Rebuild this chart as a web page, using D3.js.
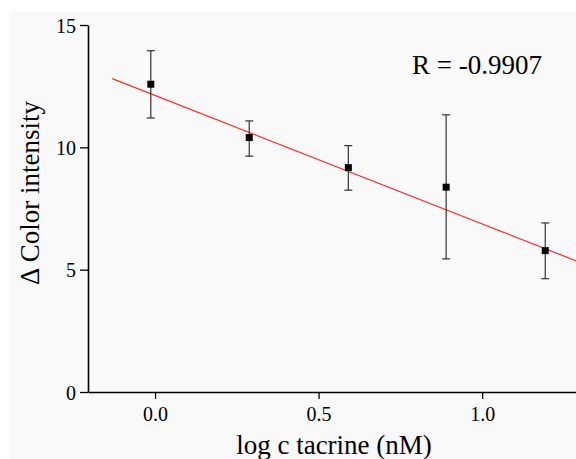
<!DOCTYPE html>
<html>
<head>
<meta charset="utf-8">
<script src="https://cdn.jsdelivr.net/npm/d3@7"></script>
<style>
  body { margin: 0; background: #fff; }
  svg { display: block; }
</style>
</head>
<body>
<svg id="chart"></svg>
<script>
'use strict'

var WIDTH = 576,
	HEIGHT = 459;

// data
var logConc = [-0.013, 0.288, 0.591, 0.89, 1.193];
var intensity = [12.58, 10.40, 9.17, 8.37, 5.78];
var errUpper = [13.95, 11.08, 10.07, 11.33, 6.91];
var errLower = [11.2, 9.64, 8.25, 5.44, 4.63];

var fitSlope = -5.25,
	fitIntercept = 12.12;
var fitRange = [-0.131, 1.3];

var xTicks = [0.0, 0.5, 1.0];
var yTicks = [0, 5, 10, 15];
var rLabel = "R = -0.9907";

var margin = { top: 25, right: 0, bottom: 67, left: 88 };

var svg = d3.select("#chart")
	.attr("width", WIDTH)
	.attr("height", HEIGHT)

// panel background
svg.append("rect")
	.attr("x", 10)
	.attr("y", 12)
	.attr("width", WIDTH - 10)
	.attr("height", HEIGHT - 12)
	.style("fill", "#f9f9f9")

var x = d3.scaleLinear()
	.domain([-0.205, 1.287])
	.range([margin.left, WIDTH - margin.right])

var y = d3.scaleLinear()
	.domain([0, 15])
	.range([HEIGHT - margin.bottom, margin.top])

var serif = "Liberation Serif";

// axes
var xAxis = svg.append("g")
	.attr("transform", "translate(0," + y(0) + ")")
	.call(d3.axisBottom(x).tickValues(xTicks).tickFormat(d3.format(".1f")).tickSize(7).tickSizeOuter(0))

var yAxis = svg.append("g")
	.attr("transform", "translate(" + x.range()[0] + ",0)")
	.call(d3.axisLeft(y).tickValues(yTicks).tickFormat(d3.format("d")).tickSize(8).tickSizeOuter(0))

svg.selectAll("g")
	.attr("font-family", serif)
	.attr("font-size", 20)
svg.selectAll(".domain")
	.style("stroke", "#000")
	.style("stroke-width", 1.6)
svg.selectAll(".tick line")
	.style("stroke", "#000")
	.style("stroke-width", 1.3)
svg.selectAll(".tick text")
	.attr("font-family", serif)
	.style("fill", "#000")

xAxis.selectAll(".tick text").attr("y", 10).attr("dy", "0.95em")
yAxis.selectAll(".tick text").attr("x", -12).attr("dy", "0.35em")

// axis titles
svg.append("text")
	.attr("x", 334)
	.attr("y", 454)
	.attr("text-anchor", "middle")
	.attr("font-family", serif)
	.attr("font-size", 27)
	.text("log c tacrine (nM)")

svg.append("text")
	.attr("transform", "translate(39,193) rotate(-90)")
	.attr("text-anchor", "middle")
	.attr("font-family", serif)
	.attr("font-size", 27)
	.text("\u0394 Color intensity")

// fit line
var fitLine = d3.line()
	.x(function(d) { return x(d) })
	.y(function(d) { return y(fitIntercept + fitSlope * d) })

svg.append("path")
	.attr("d", fitLine(fitRange))
	.style("fill", "none")
	.style("stroke", "#ff2a2a")
	.style("stroke-width", 1.2)

// error bars
var capW = 4;
logConc.forEach(function(c, i) {
	var g = svg.append("g")
		.style("stroke", "#333")
		.style("stroke-width", 1.2)
	g.append("line")
		.attr("x1", x(c)).attr("x2", x(c))
		.attr("y1", y(errUpper[i])).attr("y2", y(errLower[i]))
	g.append("line")
		.attr("x1", x(c) - capW).attr("x2", x(c) + capW)
		.attr("y1", y(errUpper[i])).attr("y2", y(errUpper[i]))
	g.append("line")
		.attr("x1", x(c) - capW).attr("x2", x(c) + capW)
		.attr("y1", y(errLower[i])).attr("y2", y(errLower[i]))
})

// markers
var sq = 7;
svg.selectAll(".pt")
	.data(logConc)
	.enter().append("rect")
	.attr("class", "pt")
	.attr("x", function(d) { return x(d) - sq / 2 })
	.attr("y", function(d, i) { return y(intensity[i]) - sq / 2 })
	.attr("width", sq)
	.attr("height", sq)
	.style("fill", "#000")

// R label
svg.append("text")
	.attr("x", 412)
	.attr("y", 74)
	.attr("font-family", serif)
	.attr("font-size", 27)
	.text(rLabel)
</script>
</body>
</html>
